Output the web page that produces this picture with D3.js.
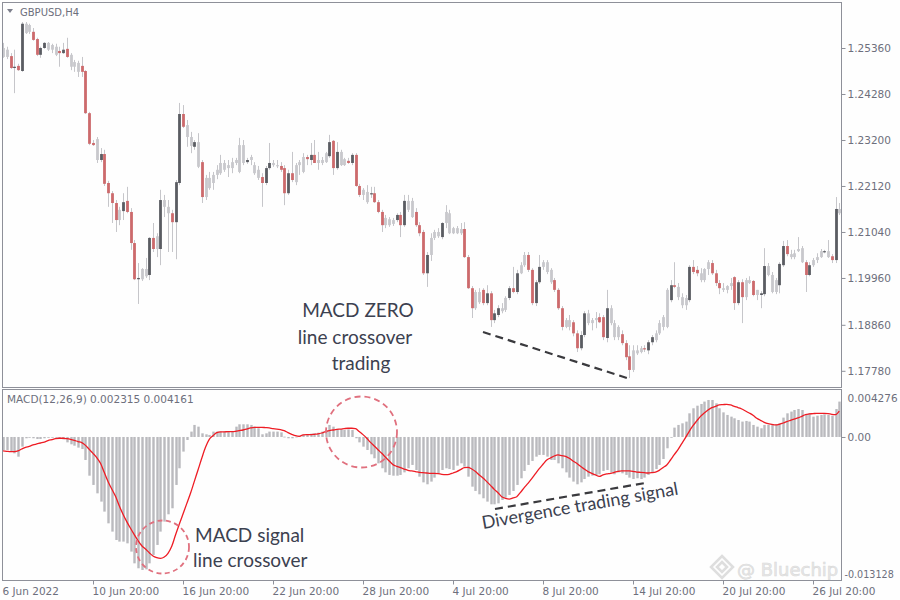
<!DOCTYPE html>
<html><head><meta charset="utf-8">
<script src="https://cdn.jsdelivr.net/npm/d3@7"></script>
<style>
body{margin:0;background:#fefefe}
svg{display:block}
.ax text{font-family:"DejaVu Sans",sans-serif;font-size:10.5px;fill:#6d6f7c}
.hand{font-family:Lato,"Open Sans",sans-serif;fill:#3c4150}
</style></head>
<body><svg id="c" width="900" height="600"></svg>
<script>
// ---------- DATA ----------
const symbolTitle = "GBPUSD,H4";
const macdTitle = "MACD(12,26,9) 0.002315 0.004161";
const opens=[1.2536,1.2515,1.2517,1.2489,1.2494,1.2482,1.2593,1.2574,1.2574,1.2557,
1.2520,1.2536,1.2548,1.2532,1.2539,1.2529,1.2524,1.2534,1.2520,1.2492,
1.2501,1.2494,1.2482,1.2383,1.2313,1.2322,1.2273,1.2287,1.2219,1.2195,
1.2172,1.2132,1.2153,1.2177,1.2151,1.2078,1.1993,1.1993,1.2017,1.2003,
1.2090,1.2064,1.2064,1.2179,1.2163,1.2148,1.2127,1.2219,1.2381,1.2355,
1.2327,1.2304,1.2315,1.2268,1.2186,1.2231,1.2219,1.2238,1.2242,1.2266,
1.2254,1.2254,1.2266,1.2245,1.2308,1.2268,1.2273,1.2261,1.2250,1.2233,
1.2219,1.2254,1.2266,1.2261,1.2259,1.2254,1.2195,1.2242,1.2221,1.2261,
1.2245,1.2280,1.2273,1.2285,1.2266,1.2273,1.2268,1.2282,1.2318,1.2254,
1.2292,1.2261,1.2271,1.2266,1.2285,1.2212,1.2191,1.2198,1.2193,1.2195,
1.2174,1.2151,1.2120,1.2134,1.2123,1.2132,1.2144,1.2120,1.2177,1.2177,
1.2151,1.2120,1.2104,1.2007,1.2050,1.2090,1.2104,1.2092,1.2125,1.2148,
1.2101,1.2113,1.2101,1.2111,1.2045,1.1972,1.1925,1.1963,1.1968,1.1937,
1.1960,1.1897,1.1909,1.1925,1.1921,1.1949,1.1972,1.1963,1.2007,1.2026,
1.2050,1.2015,1.1937,1.1986,1.2022,1.2033,1.2015,1.1991,1.1968,1.1925,
1.1881,1.1897,1.1892,1.1866,1.1831,1.1862,1.1913,1.1890,1.1897,1.1904,
1.1904,1.1855,1.1925,1.1890,1.1857,1.1864,1.1843,1.1812,1.1780,1.1826,
1.1822,1.1831,1.1826,1.1845,1.1850,1.1866,1.1881,1.1881,1.1944,1.1979,
1.1975,1.1951,1.1932,1.1944,1.2022,1.2015,1.2007,1.1991,1.2017,1.2031,
1.2007,1.1984,1.1972,1.1968,1.1977,1.1998,1.1937,1.1986,1.1951,1.1991,
1.1989,1.1956,1.1956,1.1958,1.2024,1.2003,1.1963,1.1979,1.2026,1.2071,
1.2052,1.2045,1.2059,1.2066,1.2033,1.2003,1.2026,1.2038,1.2045,1.2057,
1.2059,1.2047,1.2038,1.2158];
const highs=[1.2548,1.2539,1.2524,1.2532,1.2499,1.2597,1.2597,1.2593,1.2583,1.2560,
1.2539,1.2550,1.2550,1.2546,1.2546,1.2539,1.2548,1.2560,1.2524,1.2508,
1.2506,1.2515,1.2484,1.2386,1.2320,1.2327,1.2301,1.2297,1.2224,1.2200,
1.2179,1.2163,1.2195,1.2210,1.2160,1.2085,1.2031,1.2019,1.2043,1.2092,
1.2125,1.2101,1.2203,1.2191,1.2179,1.2156,1.2226,1.2407,1.2402,1.2367,
1.2339,1.2320,1.2336,1.2273,1.2238,1.2245,1.2245,1.2261,1.2285,1.2273,
1.2273,1.2278,1.2278,1.2325,1.2320,1.2278,1.2285,1.2268,1.2259,1.2242,
1.2259,1.2313,1.2273,1.2273,1.2268,1.2261,1.2250,1.2292,1.2266,1.2273,
1.2289,1.2285,1.2313,1.2320,1.2292,1.2280,1.2292,1.2332,1.2320,1.2315,
1.2297,1.2278,1.2278,1.2289,1.2289,1.2217,1.2207,1.2214,1.2210,1.2210,
1.2179,1.2156,1.2144,1.2139,1.2137,1.2148,1.2151,1.2191,1.2191,1.2184,
1.2160,1.2127,1.2109,1.2057,1.2101,1.2109,1.2113,1.2127,1.2167,1.2156,
1.2116,1.2118,1.2125,1.2127,1.2050,1.1977,1.1968,1.1972,1.1972,1.1979,
1.1965,1.1921,1.1932,1.1937,1.1953,1.1977,1.2022,1.2015,1.2033,1.2057,
1.2057,1.2019,1.1991,1.2050,1.2038,1.2038,1.2019,1.1996,1.1972,1.1930,
1.1902,1.1909,1.1897,1.1873,1.1871,1.1918,1.1921,1.1902,1.1916,1.1913,
1.1909,1.1968,1.1932,1.1897,1.1885,1.1873,1.1850,1.1838,1.1838,1.1838,
1.1836,1.1838,1.1850,1.1862,1.1873,1.1897,1.1909,1.1972,1.1991,1.2033,
1.1984,1.1960,1.1956,1.2026,1.2038,1.2024,1.2019,1.2019,1.2038,1.2038,
1.2015,1.1991,1.1984,1.1979,1.1996,1.2000,1.1991,1.1993,1.1996,1.2000,
1.1991,1.1968,1.1965,1.2066,1.2031,1.2010,1.1996,1.2033,1.2083,1.2085,
1.2062,1.2062,1.2092,1.2071,1.2038,1.2033,1.2043,1.2054,1.2064,1.2062,
1.2085,1.2052,1.2186,1.2172];
const lows=[1.2513,1.2510,1.2487,1.2430,1.2482,1.2480,1.2569,1.2569,1.2553,1.2517,
1.2513,1.2534,1.2529,1.2524,1.2517,1.2492,1.2522,1.2513,1.2484,1.2480,
1.2468,1.2468,1.2381,1.2308,1.2306,1.2266,1.2268,1.2212,1.2163,1.2125,
1.2104,1.2120,1.2132,1.2148,1.2062,1.1991,1.1935,1.1989,1.1996,1.1991,
1.2057,1.2045,1.2026,1.2139,1.2057,1.2057,1.2040,1.2214,1.2348,1.2304,
1.2289,1.2297,1.2254,1.2172,1.2179,1.2203,1.2203,1.2228,1.2238,1.2245,
1.2233,1.2242,1.2261,1.2242,1.2261,1.2264,1.2261,1.2238,1.2226,1.2163,
1.2214,1.2250,1.2257,1.2254,1.2245,1.2167,1.2191,1.2221,1.2214,1.2238,
1.2242,1.2261,1.2261,1.2266,1.2250,1.2261,1.2266,1.2278,1.2238,1.2250,
1.2259,1.2259,1.2264,1.2261,1.2210,1.2186,1.2179,1.2170,1.2184,1.2172,
1.2148,1.2104,1.2113,1.2116,1.2118,1.2127,1.2092,1.2116,1.2151,1.2137,
1.2116,1.2094,1.2003,1.1975,1.2036,1.2085,1.2090,1.2087,1.2113,1.2099,
1.2099,1.2099,1.2097,1.2043,1.1970,1.1902,1.1921,1.1935,1.1932,1.1932,
1.1881,1.1890,1.1904,1.1913,1.1916,1.1944,1.1960,1.1958,1.2005,1.2022,
1.2010,1.1932,1.1930,1.1982,1.2015,1.2005,1.1982,1.1963,1.1921,1.1873,
1.1878,1.1873,1.1859,1.1822,1.1826,1.1857,1.1885,1.1873,1.1878,1.1890,
1.1850,1.1845,1.1885,1.1850,1.1850,1.1838,1.1803,1.1761,1.1775,1.1815,
1.1819,1.1822,1.1817,1.1838,1.1845,1.1862,1.1873,1.1878,1.1939,1.1972,
1.1944,1.1925,1.1921,1.1939,1.2005,1.2000,1.1986,1.1986,1.2003,1.2003,
1.1977,1.1958,1.1963,1.1960,1.1968,1.1921,1.1932,1.1890,1.1944,1.1982,
1.1953,1.1944,1.1925,1.1953,1.2000,1.1960,1.1958,1.1960,1.2022,1.2047,
1.2040,1.2040,1.2057,1.2031,1.1963,1.2000,1.2022,1.2031,1.2043,1.2054,
1.2043,1.2031,1.2031,1.2144];
const closes=[1.2515,1.2532,1.2489,1.2492,1.2484,1.2593,1.2571,1.2590,1.2555,1.2520,
1.2536,1.2548,1.2532,1.2543,1.2520,1.2524,1.2532,1.2515,1.2492,1.2503,
1.2480,1.2480,1.2383,1.2311,1.2308,1.2273,1.2287,1.2217,1.2195,1.2172,
1.2132,1.2156,1.2174,1.2151,1.2078,1.1993,1.1996,1.2017,1.2000,1.2090,
1.2064,1.2094,1.2179,1.2163,1.2148,1.2127,1.2221,1.2381,1.2351,1.2327,
1.2306,1.2315,1.2257,1.2186,1.2231,1.2207,1.2238,1.2250,1.2266,1.2250,
1.2261,1.2268,1.2273,1.2308,1.2266,1.2273,1.2280,1.2242,1.2231,1.2219,
1.2254,1.2266,1.2261,1.2259,1.2250,1.2195,1.2242,1.2226,1.2261,1.2268,
1.2280,1.2275,1.2285,1.2266,1.2273,1.2266,1.2289,1.2315,1.2254,1.2292,
1.2261,1.2275,1.2266,1.2285,1.2212,1.2191,1.2203,1.2174,1.2195,1.2174,
1.2151,1.2120,1.2137,1.2120,1.2132,1.2144,1.2120,1.2177,1.2156,1.2139,
1.2120,1.2101,1.2007,1.2050,1.2090,1.2104,1.2094,1.2125,1.2151,1.2101,
1.2113,1.2101,1.2111,1.2045,1.1972,1.1925,1.1963,1.1939,1.1937,1.1960,
1.1897,1.1913,1.1925,1.1918,1.1949,1.1972,1.1963,1.2007,1.2026,1.2050,
1.2015,1.1937,1.1986,1.2022,1.2033,1.2010,1.1986,1.1968,1.1925,1.1881,
1.1897,1.1881,1.1866,1.1831,1.1862,1.1913,1.1890,1.1897,1.1902,1.1892,
1.1857,1.1925,1.1890,1.1857,1.1881,1.1843,1.1810,1.1780,1.1826,1.1819,
1.1831,1.1829,1.1845,1.1857,1.1866,1.1890,1.1904,1.1968,1.1979,1.1975,
1.1951,1.1932,1.1949,1.2022,1.2010,1.2007,1.1991,1.2017,1.2033,1.2007,
1.1984,1.1972,1.1968,1.1977,1.1984,1.1937,1.1986,1.1951,1.1991,1.1984,
1.1956,1.1968,1.1960,1.2024,1.2003,1.1963,1.1991,1.2029,1.2071,1.2052,
1.2045,1.2054,1.2064,1.2033,1.2003,1.2026,1.2038,1.2045,1.2059,1.2059,
1.2045,1.2038,1.2158,1.2148];
// candle tone as seen: d = dark body, r = red body, l = light grey
const tones=("llrdrdllrr"+"ddlllrdrll"+"lrrrrldrrr"+"rldrrrdlld"+"rldllrddrl"+
"ldlrllllll"+"llllldlllr"+"ddllrrdrll"+"lrdrllldrd"+"llrdrrlldr"+
"rrllldrdll"+"rrrdllldll"+"lllrrrllrd"+"rddlldrdll"+"rrddlllrrr"+
"llrrddlllr"+"rdlllrrrll"+"lrddlllldr"+"llldrrlllr"+"rrlllrdrll"+
"rlddlllddr"+"llllrdllld"+"lrdl").split("");
const macdMain=[-0.00121,-0.00121,-0.00136,-0.00152,-0.00183,-0.00090,-0.00012,-0.00006,-0.00012,-0.00019,
-0.00019,-0.00012,-0.00006,-0.00006,-0.00006,-0.00019,-0.00022,-0.00050,-0.00068,-0.00081,
-0.00099,-0.00112,-0.00214,-0.00360,-0.00446,-0.00524,-0.00601,-0.00694,-0.00803,-0.00880,
-0.00958,-0.00973,-0.00973,-0.00989,-0.01066,-0.01175,-0.01221,-0.01237,-0.01231,-0.01175,
-0.01097,-0.01004,-0.00880,-0.00787,-0.00719,-0.00663,-0.00446,-0.00291,-0.00136,-0.00028,
0.00050,0.00112,0.00096,0.00034,0.00025,0.00019,0.00050,0.00050,0.00050,0.00050,
0.00050,0.00056,0.00096,0.00118,0.00118,0.00118,0.00112,0.00096,0.00081,0.00025,
0.00034,0.00050,0.00050,0.00050,0.00043,0.00003,-0.00012,-0.00012,0.00003,0.00012,
0.00019,0.00025,0.00031,0.00034,0.00040,0.00050,0.00065,0.00112,0.00096,0.00074,
0.00071,0.00065,0.00071,0.00065,-0.00012,-0.00050,-0.00090,-0.00121,-0.00161,-0.00198,
-0.00245,-0.00291,-0.00329,-0.00353,-0.00360,-0.00360,-0.00353,-0.00329,-0.00291,-0.00260,
-0.00307,-0.00369,-0.00422,-0.00440,-0.00415,-0.00378,-0.00338,-0.00307,-0.00291,-0.00298,
-0.00307,-0.00267,-0.00245,-0.00276,-0.00369,-0.00462,-0.00502,-0.00533,-0.00570,-0.00601,
-0.00626,-0.00626,-0.00617,-0.00586,-0.00564,-0.00539,-0.00502,-0.00446,-0.00384,-0.00316,
-0.00260,-0.00223,-0.00183,-0.00167,-0.00167,-0.00183,-0.00214,-0.00214,-0.00245,-0.00291,
-0.00329,-0.00378,-0.00415,-0.00440,-0.00422,-0.00391,-0.00369,-0.00360,-0.00353,-0.00347,
-0.00316,-0.00307,-0.00329,-0.00347,-0.00329,-0.00338,-0.00353,-0.00378,-0.00391,-0.00384,
-0.00391,-0.00378,-0.00353,-0.00329,-0.00298,-0.00260,-0.00205,-0.00105,-0.00006,0.00087,
0.00112,0.00127,0.00143,0.00220,0.00267,0.00291,0.00307,0.00329,0.00344,0.00344,
0.00313,0.00267,0.00229,0.00205,0.00189,0.00174,0.00158,0.00143,0.00149,0.00143,
0.00112,0.00096,0.00081,0.00112,0.00112,0.00112,0.00118,0.00127,0.00180,0.00220,
0.00236,0.00251,0.00260,0.00251,0.00211,0.00220,0.00189,0.00198,0.00205,0.00211,
0.00205,0.00198,0.00260,0.00329];
const macdSignal=[-0.00130,-0.00133,-0.00136,-0.00136,-0.00130,-0.00112,-0.00096,-0.00087,-0.00074,-0.00065,
-0.00056,-0.00047,-0.00034,-0.00025,-0.00016,-0.00012,-0.00012,-0.00016,-0.00022,-0.00031,
-0.00043,-0.00053,-0.00078,-0.00115,-0.00152,-0.00192,-0.00245,-0.00329,-0.00415,-0.00484,
-0.00552,-0.00639,-0.00719,-0.00787,-0.00849,-0.00908,-0.00964,-0.01011,-0.01042,-0.01076,
-0.01107,-0.01122,-0.01128,-0.01116,-0.01082,-0.01017,-0.00911,-0.00812,-0.00716,-0.00620,
-0.00524,-0.00415,-0.00307,-0.00198,-0.00096,-0.00022,0.00012,0.00040,0.00047,0.00047,
0.00050,0.00050,0.00053,0.00059,0.00065,0.00074,0.00084,0.00090,0.00090,0.00090,
0.00087,0.00084,0.00078,0.00074,0.00068,0.00059,0.00040,0.00025,0.00012,0.00006,
0.00019,0.00022,0.00022,0.00025,0.00028,0.00037,0.00050,0.00059,0.00065,0.00071,
0.00074,0.00078,0.00081,0.00081,0.00078,0.00050,0.00022,-0.00012,-0.00050,-0.00084,
-0.00118,-0.00152,-0.00189,-0.00223,-0.00257,-0.00273,-0.00285,-0.00298,-0.00310,-0.00316,
-0.00322,-0.00329,-0.00332,-0.00335,-0.00338,-0.00338,-0.00341,-0.00347,-0.00350,-0.00347,
-0.00335,-0.00322,-0.00304,-0.00285,-0.00282,-0.00298,-0.00322,-0.00353,-0.00381,-0.00415,
-0.00450,-0.00487,-0.00518,-0.00555,-0.00570,-0.00577,-0.00567,-0.00555,-0.00515,-0.00471,
-0.00431,-0.00388,-0.00341,-0.00295,-0.00254,-0.00214,-0.00195,-0.00177,-0.00167,-0.00174,
-0.00180,-0.00198,-0.00223,-0.00245,-0.00273,-0.00298,-0.00322,-0.00338,-0.00353,-0.00366,
-0.00353,-0.00344,-0.00338,-0.00329,-0.00319,-0.00316,-0.00316,-0.00316,-0.00319,-0.00326,
-0.00329,-0.00332,-0.00335,-0.00332,-0.00326,-0.00310,-0.00285,-0.00260,-0.00214,-0.00164,
-0.00118,-0.00062,-0.00006,0.00053,0.00105,0.00149,0.00192,0.00223,0.00251,0.00273,
0.00285,0.00298,0.00301,0.00304,0.00298,0.00285,0.00273,0.00260,0.00242,0.00223,
0.00202,0.00174,0.00155,0.00136,0.00124,0.00118,0.00112,0.00118,0.00130,0.00143,
0.00155,0.00167,0.00177,0.00192,0.00208,0.00214,0.00217,0.00220,0.00220,0.00220,
0.00217,0.00211,0.00208,0.00240];
const priceTicks=[1.25360,1.24280,1.23200,1.22120,1.21040,1.19960,1.18860,1.17780];
const macdTicks=[0.004276,0,-0.013128];
const macdTickLabels=["0.004276","0.00","-0.013128"];
const timeLabels=["6 Jun 2022","10 Jun 20:00","16 Jun 20:00","22 Jun 20:00","28 Jun 20:00","4 Jul 20:00","8 Jul 20:00","14 Jul 20:00","20 Jul 20:00","26 Jul 20:00"];
const timeLabelBars=[0,24,48,72,96,120,144,168,192,216];

// ---------- LAYOUT ----------
const L=2, R=841, mainTop=2, mainBot=387, mTop=389, mBot=580;
const svg=d3.select("#c");
const n=opens.length;
const x=d3.scaleLinear().domain([0,n-1]).range([3,839.25]);
const yP=d3.scaleLinear().domain([1.2536,1.1778]).range([48,370.8]);
const yM=d3.scaleLinear().domain([0.004276,-0.0133]).range([391,580]);
const toneColor=d3.scaleOrdinal().domain(["d","r","l"]).range(["#5a5c62","#cc6a6c","#c8c8cc"]);

svg.append("rect").attr("width",900).attr("height",600).attr("fill","#fefefe");
const defs=svg.append("defs");
defs.append("clipPath").attr("id","cm").append("rect").attr("x",L+1).attr("y",mainTop+1).attr("width",R-L-1).attr("height",mainBot-mainTop-1);
defs.append("clipPath").attr("id","cd").append("rect").attr("x",L+1).attr("y",mTop+1).attr("width",R-L-1).attr("height",mBot-mTop-1);

// candles
const gC=svg.append("g").attr("clip-path","url(#cm)");
const idx=d3.range(n);
gC.selectAll("line.w").data(idx).join("line")
  .attr("x1",i=>Math.round(x(i))+0.5).attr("x2",i=>Math.round(x(i))+0.5)
  .attr("y1",i=>yP(highs[i])).attr("y2",i=>yP(lows[i]))
  .attr("stroke","#c6c6ca").attr("stroke-width",1);
gC.selectAll("rect.b").data(idx).join("rect")
  .attr("x",i=>Math.round(x(i))+0.5-1.4).attr("width",2.8)
  .attr("y",i=>Math.min(yP(opens[i]),yP(closes[i])))
  .attr("height",i=>Math.max(1.2,Math.abs(yP(opens[i])-yP(closes[i]))))
  .attr("fill",i=>toneColor(tones[i]));

// MACD histogram + signal
const gM=svg.append("g").attr("clip-path","url(#cd)");
gM.selectAll("rect").data(idx).join("rect")
  .attr("x",i=>Math.round(x(i))+0.5-1.2).attr("width",2.4)
  .attr("y",i=>Math.min(yM(macdMain[i]),yM(0)))
  .attr("height",i=>Math.max(0.8,Math.abs(yM(macdMain[i])-yM(0))))
  .attr("fill","#bababe");
gM.append("path").datum(idx)
  .attr("d",d3.line().x(i=>x(i)).y(i=>yM(macdSignal[i])).curve(d3.curveMonotoneX))
  .attr("fill","none").attr("stroke","#ee1c24").attr("stroke-width",1.3);

// frames
const fr="#8e9099";
svg.append("rect").attr("x",L+0.5).attr("y",mainTop+0.5).attr("width",R-L).attr("height",mainBot-mainTop).attr("fill","none").attr("stroke",fr);
svg.append("rect").attr("x",L+0.5).attr("y",mTop+0.5).attr("width",R-L).attr("height",mBot-mTop).attr("fill","none").attr("stroke",fr);

// watermark (drawn under the axis labels)
const wm=svg.append("g").attr("opacity",0.55);
wm.append("path").attr("d","M722,556 L733,567 L722,578 L711,567 Z M722,562 L727,567 L722,572 L717,567 Z")
  .attr("fill","none").attr("stroke","#c4c4c4").attr("stroke-width",2.5);
wm.append("text").attr("x",737).attr("y",576).attr("font-family","DejaVu Sans").attr("font-size",18)
  .attr("fill","#d6d6d6").attr("stroke","#bcbcbc").attr("stroke-width",0.6).text("@ Bluechip");

// axes
const ap=svg.append("g").attr("class","ax").attr("transform",`translate(${R+0.5},0)`)
  .call(d3.axisRight(yP).tickValues(priceTicks).tickSize(4).tickPadding(2).tickFormat(d3.format(".5f")));
const am=svg.append("g").attr("class","ax").attr("transform",`translate(${R+0.5},0)`)
  .call(d3.axisRight(yM).tickValues(macdTicks).tickSize(4).tickPadding(2).tickFormat((d,i)=>macdTickLabels[i]));
am.selectAll(".tick").filter((d,i)=>i===0).select("text").attr("dy","1.0em");
am.selectAll(".tick").filter((d,i)=>i===2).select("text").attr("dy","-0.1em").attr("x",3).style("font-size","9.6px");
am.selectAll(".tick").filter((d,i)=>i!==1).select("line").remove();
const at=svg.append("g").attr("class","ax").attr("transform",`translate(0,${mBot+0.5})`)
  .call(d3.axisBottom(x).tickValues(timeLabelBars).tickSize(4).tickPadding(3).tickFormat((d,i)=>timeLabels[i]));
at.selectAll("text").attr("text-anchor","start").attr("x",-1);
at.selectAll(".tick").filter((d,i)=>i===0).select("line").remove();
[ap,am,at].forEach(g=>{g.select(".domain").remove();g.selectAll("line").attr("stroke",fr);});

// titles
svg.append("path").attr("d","M7,9 L13,9 L10,13 Z").attr("fill","#7c7e8b");
svg.append("text").attr("x",20).attr("y",16).attr("font-family","DejaVu Sans").attr("font-size",10).attr("fill","#6d6f7c").text(symbolTitle);
svg.append("text").attr("x",7).attr("y",403).attr("font-family","DejaVu Sans").attr("font-size",10.5).attr("fill","#6d6f7c").text(macdTitle);

// annotations
const dash="#3a3a3e";
svg.append("line").attr("x1",483).attr("y1",332).attr("x2",627).attr("y2",378)
  .attr("stroke",dash).attr("stroke-width",2.2).attr("stroke-dasharray","8,5");
svg.append("line").attr("x1",495).attr("y1",509).attr("x2",645).attr("y2",483)
  .attr("stroke",dash).attr("stroke-width",2.2).attr("stroke-dasharray","8,5");
svg.append("circle").attr("cx",162.5).attr("cy",547).attr("r",26.5)
  .attr("fill","none").attr("stroke","#e0707e").attr("stroke-width",1.8).attr("stroke-dasharray","5,3.5");
svg.append("circle").attr("cx",361.5).attr("cy",432).attr("r",35.5)
  .attr("fill","none").attr("stroke","#e0707e").attr("stroke-width",1.8).attr("stroke-dasharray","6,4");

const hand=(t,xx,yy,fs,anchor)=>svg.append("text").attr("class","hand").attr("x",xx).attr("y",yy)
  .attr("font-size",fs).attr("text-anchor",anchor||"start").text(t);
hand("MACD ZERO",358,317,19,"middle");
hand("line crossover",355,344,19,"middle");
hand("trading",361,370,19,"middle");
hand("MACD signal",195,542,19);
hand("line crossover",193,567,19);
svg.append("text").attr("class","hand").attr("font-size",18)
  .attr("transform","translate(483,529) rotate(-10)").text("Divergence trading signal");
</script></body></html>
